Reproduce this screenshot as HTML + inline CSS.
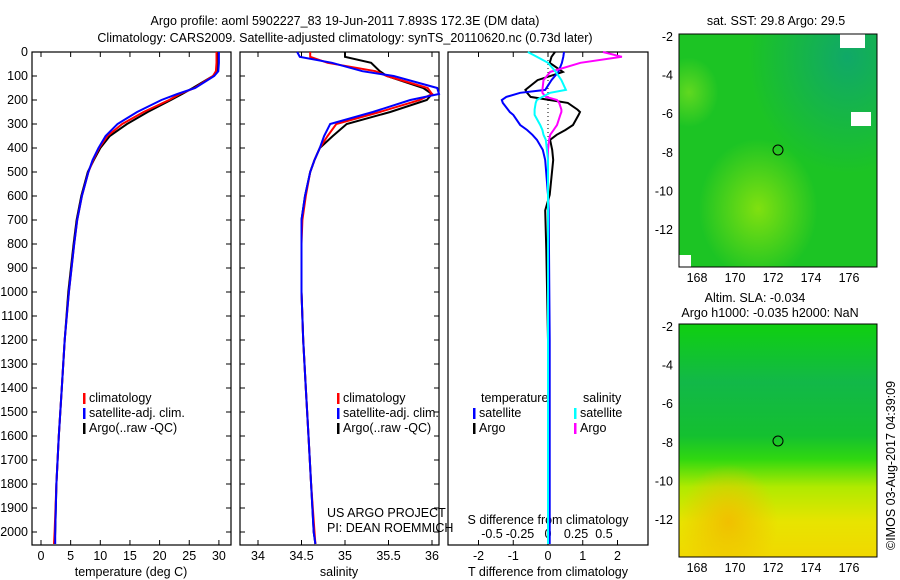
<!DOCTYPE html>
<html><head><meta charset="utf-8">
<style>
body{margin:0;background:#fff;}
svg{display:block;font-family:"Liberation Sans",sans-serif;}
text{font-size:12.5px;fill:#000;}
</style></head>
<body>
<svg id="fig" width="900" height="580" viewBox="0 0 900 580" xmlns="http://www.w3.org/2000/svg">
<defs>
<radialGradient id="g1a" cx="0.85" cy="0.1" r="0.5"><stop offset="0" stop-color="#10a868"/><stop offset="1" stop-color="#10a868" stop-opacity="0"/></radialGradient>
<radialGradient id="g1b" cx="0.4" cy="0.75" r="0.3"><stop offset="0" stop-color="#80e010"/><stop offset="1" stop-color="#80e010" stop-opacity="0"/></radialGradient>
<radialGradient id="g1c" cx="0.05" cy="0.25" r="0.15"><stop offset="0" stop-color="#60d820"/><stop offset="1" stop-color="#60d820" stop-opacity="0"/></radialGradient>
<linearGradient id="g2" x1="0" y1="0" x2="0" y2="1">
<stop offset="0" stop-color="#10d010"/><stop offset="0.25" stop-color="#12b848"/><stop offset="0.48" stop-color="#14c030"/><stop offset="0.58" stop-color="#30d810"/><stop offset="0.7" stop-color="#b0ea00"/><stop offset="0.85" stop-color="#e8e400"/><stop offset="1" stop-color="#f0d800"/></linearGradient>
<radialGradient id="g2b" cx="0.25" cy="0.85" r="0.25"><stop offset="0" stop-color="#f0c000"/><stop offset="1" stop-color="#f0c000" stop-opacity="0"/></radialGradient>
</defs>
<text x="345" y="25" text-anchor="middle">Argo profile: aoml 5902227_83 19-Jun-2011 7.893S 172.3E (DM data)</text>
<text x="345" y="42" text-anchor="middle">Climatology: CARS2009. Satellite-adjusted climatology: synTS_20110620.nc (0.73d later)</text>
<g id="axes"></g>
<g id="maps">
<rect x="679" y="34" width="198" height="233" fill="#1cc424"/>
<rect x="679" y="34" width="198" height="233" fill="url(#g1a)"/>
<rect x="679" y="34" width="198" height="233" fill="url(#g1b)"/>
<rect x="679" y="34" width="198" height="233" fill="url(#g1c)"/>
<rect x="840" y="34" width="25" height="14" fill="#fff"/><rect x="851" y="112" width="20" height="14" fill="#fff"/>
<rect x="679" y="255" width="12" height="12" fill="#fff"/>
<rect x="679" y="34" width="198" height="233" fill="none" stroke="#000"/>
<circle cx="778" cy="150" r="5" fill="none" stroke="#000"/>
<rect x="679" y="324" width="198" height="233" fill="url(#g2)"/>
<rect x="679" y="324" width="198" height="233" fill="url(#g2b)"/>
<rect x="679" y="324" width="198" height="233" fill="none" stroke="#000"/>
<circle cx="778" cy="441" r="5" fill="none" stroke="#000"/>
<text x="776" y="25" text-anchor="middle">sat. SST: 29.8 Argo: 29.5</text>
<text x="755" y="302" text-anchor="middle">Altim. SLA: -0.034</text>
<text x="770" y="317" text-anchor="middle">Argo h1000: -0.035 h2000: NaN</text>
<text transform="translate(895,550) rotate(-90)">©IMOS 03-Aug-2017 04:39:09</text>
</g>
<g id="series"></g>
</svg>
<script>
const depths=[0,20,45,80,100,150,175,200,250,300,350,400,450,500,600,700,800,1000,1200,1400,1600,1800,2000,2050];
const argoT=[29.8,29.8,29.8,29.7,29.0,25.6,23.8,21.9,18.0,14.5,11.6,10.0,8.9,7.9,6.8,6.0,5.5,4.6,4.0,3.5,3.0,2.6,2.4,2.3];
const climT=[29.6,29.6,29.6,29.5,29.0,25.9,23.4,21.6,17.3,13.7,11.2,9.8,8.8,8.0,6.9,6.1,5.6,4.7,4.0,3.5,3.0,2.6,2.3,2.2];
const satT=[30.0,30.0,30.0,29.9,29.2,26.0,23.0,20.3,16.2,12.9,10.9,9.7,8.7,8.0,6.9,6.1,5.6,4.7,4.0,3.5,3.0,2.6,2.4,2.4];
const argoS=[35.0,35.0,35.3,35.4,35.48,35.9,36.0,35.94,35.52,35.02,34.86,34.71,34.65,34.6,34.54,34.5,34.5,34.5,34.52,34.55,34.58,34.61,34.64,34.66];
const climS=[34.6,34.6,34.8,35.35,35.48,35.95,36.0,35.86,35.4,34.9,34.8,34.71,34.65,34.6,34.55,34.51,34.5,34.5,34.52,34.55,34.58,34.61,34.65,34.66];
const satS=[34.45,34.48,34.85,35.2,35.56,36.06,36.08,35.75,35.32,34.83,34.76,34.71,34.65,34.6,34.54,34.5,34.5,34.5,34.52,34.55,34.58,34.61,34.64,34.66];
const dDepths=[0,20,45,83,117,158,170,187,200,212,240,250,262,304,325,345,366,408,450,595,660,825,1200,2050];
const dTargo=[0.2,0.1,0.05,0.43,-0.3,-0.65,-0.6,-0.5,0.05,0.57,0.85,0.92,0.88,0.72,0.5,0.25,0.06,0.12,0.15,0.05,-0.08,-0.05,0.0,0.0];
const dTsat=[0.46,0.44,0.4,0.3,0.1,-0.08,-0.8,-1.2,-1.33,-1.3,-1.15,-1.1,-1.0,-0.8,-0.6,-0.45,-0.32,-0.15,-0.08,0.0,0.02,0.03,0.05,0.05];
const dSsat=[-0.18,-0.1,0.0,0.07,0.12,0.16,0.02,-0.05,-0.1,-0.11,-0.12,-0.12,-0.12,-0.07,-0.05,-0.04,-0.02,-0.01,0.0,0.0,0.0,0.0,0.0,0.0];
const dSargo=[0.49,0.66,0.29,0.02,-0.04,-0.05,-0.05,-0.02,0.08,0.1,0.12,0.12,0.11,0.08,0.05,0.02,0.01,0.0,0.0,0.0,0.0,0.0,0.0,0.0];
const depthTicks=[0,100,200,300,400,500,600,700,800,900,1000,1100,1200,1300,1400,1500,1600,1700,1800,1900,2000];
const tTicks=[0,5,10,15,20,25,30];
const sTicks=[34,34.5,35,35.5,36];
const sTickLabels=["34","34.5","35","35.5","36"];
const dTTicks=[-2,-1,0,1,2];
const dSTicks=[-0.5,-0.25,0,0.25,0.5];
const dSTickLabels=["-0.5","-0.25","0","0.25","0.5"];

const NS="http://www.w3.org/2000/svg";
const Y0=52, Y1=545;
const yD=d=>Y0+d*0.24;
const xT=t=>41+t*5.93;
const xS=s=>258+(s-34)*87;
const xDT=v=>548+v*34.75;
const xDS=v=>548+v*112;
const ax=document.getElementById('axes'), sr=document.getElementById('series');
function mk(tag,attrs,parent){const e=document.createElementNS(NS,tag);for(const k in attrs)e.setAttribute(k,attrs[k]);parent.appendChild(e);return e;}
function txt(x,y,s,anchor,parent){const t=mk('text',{x:x,y:y,'text-anchor':anchor||'middle'},parent);t.textContent=s;return t;}
const panels=[[32,231],[240,439],[448,648]];
panels.forEach((p,i)=>{
  const r=mk('rect',{x:p[0],y:Y0,width:p[1]-p[0],height:Y1-Y0,fill:'none',stroke:'#000','stroke-width':1.2},ax);
  
  
  if(i<2){depthTicks.forEach(d=>{mk('line',{x1:p[0],x2:p[0]+5,y1:yD(d),y2:yD(d),stroke:'#000'},ax);mk('line',{x1:p[1]-5,x2:p[1],y1:yD(d),y2:yD(d),stroke:'#000'},ax);});}
});
depthTicks.forEach(d=>{const t=txt(28,yD(d)+4,String(d),'end',ax);});
function xticks(ticks,labels,fx,ly){ticks.forEach((v,i)=>{const x=fx(v);mk('line',{x1:x,x2:x,y1:Y0,y2:Y0+5,stroke:'#000'},ax);mk('line',{x1:x,x2:x,y1:Y1-5,y2:Y1,stroke:'#000'},ax);const t=txt(x,ly,labels[i],'middle',ax);});}
xticks(tTicks,tTicks.map(String),xT,560);
xticks(sTicks,sTickLabels,xS,560);
dTTicks.forEach(v=>{const x=xDT(v);mk('line',{x1:x,x2:x,y1:Y0,y2:Y0+5,stroke:'#000'},ax);mk('line',{x1:x,x2:x,y1:Y1-5,y2:Y1,stroke:'#000'},ax);const t=txt(x,560,String(v),'middle',ax);});
dSTicks.forEach((v,i)=>{const t=txt(xDS(v),538,dSTickLabels[i],'middle',ax);});
mk('line',{x1:548,x2:548,y1:Y0,y2:Y1,stroke:'#000','stroke-dasharray':'1,3'},ax);
[['temperature (deg C)',131,576,'x-axis-title-temperature'],['salinity',339,576,'x-axis-title-salinity'],['T difference from climatology',548,576,'x-axis-title-tdiff'],['S difference from climatology',548,524,'x-axis-title-sdiff']].forEach(a=>{const t=txt(a[1],a[2],a[0],'middle',ax);});
const c1=txt(327,517,'US ARGO PROJECT','start',ax);
const c2=txt(327,532,'PI: DEAN ROEMMICH','start',ax);
function mapAxes(top){const bot=top+233;
 [-2,-4,-6,-8,-10,-12].forEach(v=>{const y=top+3+(-2-v)*19.3;mk('line',{x1:679,x2:683,y1:y,y2:y,stroke:'#000'},ax);mk('line',{x1:873,x2:877,y1:y,y2:y,stroke:'#000'},ax);const t=txt(673,y+4,String(v),'end',ax);});
 [168,170,172,174,176].forEach(v=>{const x=697+(v-168)*19;mk('line',{x1:x,x2:x,y1:top,y2:top+4,stroke:'#000'},ax);mk('line',{x1:x,x2:x,y1:bot-4,y2:bot,stroke:'#000'},ax);const t=txt(x,bot+15,String(v),'middle',ax);});}
mapAxes(34);mapAxes(324);
function line(xs,fx,ds,color,name,w){const pts=xs.map((v,i)=>fx(v).toFixed(1)+','+yD(ds[i]).toFixed(1)).join(' ');const e=mk('polyline',{points:pts,fill:'none',stroke:color,'stroke-width':w||2},sr);}
line(argoT,xT,depths,'#000','argo-temperature-line');
line(climT,xT,depths,'#f00','clim-temperature-line');
line(satT,xT,depths,'#00f','sat-temperature-line');
line(argoS,xS,depths,'#000','argo-salinity-line');
line(climS,xS,depths,'#f00','clim-salinity-line');
line(satS,xS,depths,'#00f','sat-salinity-line');
line(dTargo,xDT,dDepths,'#000','argo-tdiff-line');
line(dTsat,xDT,dDepths,'#00f','sat-tdiff-line');
line(dSargo,xDS,dDepths,'#f0f','argo-sdiff-line');
line(dSsat,xDS,dDepths,'#0ff','sat-sdiff-line');
function legend(x,y,color,label,name){mk('rect',{x:x,y:y-9,width:2.5,height:11,fill:color},ax);const t=txt(x+6,y,label,'start',ax);}
[[83,'climatology','#f00'],[83,'satellite-adj. clim.','#00f'],[83,'Argo(..raw -QC)','#000']].forEach((l,i)=>legend(l[0],402+i*15,l[2],l[1],'legend-entry-temp-'+i));
[[337,'climatology','#f00'],[337,'satellite-adj. clim.','#00f'],[337,'Argo(..raw -QC)','#000']].forEach((l,i)=>legend(l[0],402+i*15,l[2],l[1],'legend-entry-sal-'+i));
const lt=txt(481,402,'temperature','start',ax);
const ls=txt(583,402,'salinity','start',ax);
legend(473,417,'#00f','satellite','legend-entry-tdiff-sat');
legend(473,432,'#000','Argo','legend-entry-tdiff-argo');
legend(574,417,'#0ff','satellite','legend-entry-sdiff-sat');
legend(574,432,'#f0f','Argo','legend-entry-sdiff-argo');
</script>
</body></html>
